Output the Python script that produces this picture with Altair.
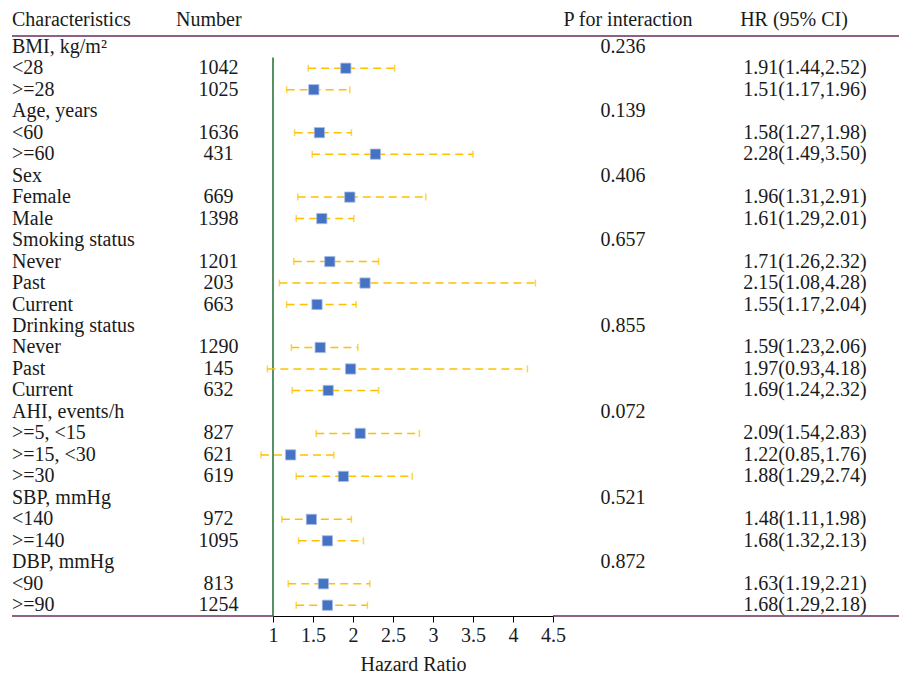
import altair as alt
import pandas as pd

# ---- data ----
group_names = ["BMI, kg/m²", "Age, years", "Sex", "Smoking status", "Drinking status",
               "AHI, events/h", "SBP, mmHg", "DBP, mmHg"]
group_p = ["0.236", "0.139", "0.406", "0.657", "0.855", "0.072", "0.521", "0.872"]
sub_labels = [["<28", ">=28"], ["<60", ">=60"], ["Female", "Male"],
              ["Never", "Past", "Current"], ["Never", "Past", "Current"],
              [">=5, <15", ">=15, <30", ">=30"], ["<140", ">=140"], ["<90", ">=90"]]
sub_n = [[1042, 1025], [1636, 431], [669, 1398], [1201, 203, 663], [1290, 145, 632],
         [827, 621, 619], [972, 1095], [813, 1254]]
sub_hr = [[1.91, 1.51], [1.58, 2.28], [1.96, 1.61], [1.71, 2.15, 1.55], [1.59, 1.97, 1.69],
          [2.09, 1.22, 1.88], [1.48, 1.68], [1.63, 1.68]]
sub_lo = [[1.44, 1.17], [1.27, 1.49], [1.31, 1.29], [1.26, 1.08, 1.17], [1.23, 0.93, 1.24],
          [1.54, 0.85, 1.29], [1.11, 1.32], [1.19, 1.29]]
sub_hi = [[2.52, 1.96], [1.98, 3.50], [2.91, 2.01], [2.32, 4.28, 2.04], [2.06, 4.18, 2.32],
          [2.83, 1.76, 2.74], [1.98, 2.13], [2.21, 2.18]]
tick_values = [1.0, 1.5, 2.0, 2.5, 3.0, 3.5, 4.0, 4.5]

rows = []
r = 0
for g, name in enumerate(group_names):
    rows.append(dict(row=r, label=name, n="", p=group_p[g], hrtxt="",
                     hr=None, lo=None, hi=None))
    r += 1
    for k, lab in enumerate(sub_labels[g]):
        hr, lo, hi = sub_hr[g][k], sub_lo[g][k], sub_hi[g][k]
        rows.append(dict(row=r, label=lab, n=str(sub_n[g][k]), p="",
                         hrtxt=f"{hr:.2f}({lo:.2f},{hi:.2f})", hr=hr, lo=lo, hi=hi))
        r += 1
df = pd.DataFrame(rows)
est = df.dropna(subset=["hr"])
nrows = len(df)

FONT = "Liberation Serif"
FS = 20
W, H = 280, 580

xsc = alt.Scale(domain=[1, 4.5], nice=False, zero=False)
ysc = alt.Scale(domain=[-0.5, nrows - 0.5], reverse=True, nice=False, zero=False)
Y = alt.Y("row:Q", scale=ysc, axis=None)
XAXIS = alt.Axis(values=tick_values, format="~g", title="Hazard Ratio", tickCount=8,
                 labelFont=FONT, labelFontSize=FS, labelColor="#1a1a1a",
                 labelOverlap=False, labelFlush=False,
                 titleFont=FONT, titleFontSize=FS, titleFontWeight="normal",
                 titleColor="#1a1a1a", domainColor="#000000", tickColor="#000000",
                 tickSize=6, labelPadding=3, titlePadding=9, grid=False)


def X(field):
    return alt.X(f"{field}:Q", scale=xsc, axis=XAXIS)


base = alt.Chart(df)


def txt(field, xpos, align):
    return base.mark_text(font=FONT, fontSize=FS, align=align, baseline="middle",
                          color="#1a1a1a").encode(
        x=alt.value(xpos), y=Y, text=f"{field}:N")


def header(s, xpos, align):
    return alt.Chart(pd.DataFrame({"t": [s]})).mark_text(
        font=FONT, fontSize=FS, align=align, baseline="middle", color="#1a1a1a"
    ).encode(x=alt.value(xpos), y=alt.value(-16), text="t:N")


hline_top = alt.Chart(pd.DataFrame({"a": [0]})).mark_rule(color="#6b2c5f", strokeWidth=1.5).encode(
    x=alt.value(-261), x2=alt.value(626), y=alt.value(0))
hline_bl = alt.Chart(pd.DataFrame({"a": [0]})).mark_rule(color="#6b2c5f", strokeWidth=1.5).encode(
    x=alt.value(-261), x2=alt.value(0), y=alt.value(H))
hline_br = alt.Chart(pd.DataFrame({"a": [0]})).mark_rule(color="#6b2c5f", strokeWidth=1.5).encode(
    x=alt.value(W), x2=alt.value(626), y=alt.value(H))

ref = alt.Chart(pd.DataFrame({"x": [1], "y1": [0.5], "y2": [nrows - 0.5]})).mark_rule(
    color="#1f6e34", strokeWidth=1.5).encode(
    x=X("x"), y=alt.Y("y1:Q", scale=ysc, axis=None), y2="y2:Q")

ci = alt.Chart(est).mark_rule(color="#ffc000", strokeWidth=1.5, strokeDash=[8, 5]).encode(
    x=X("lo"), x2="hi:Q", y=Y)
cap_lo = alt.Chart(est).mark_tick(color="#ffc000", orient="vertical", size=7, thickness=1.5).encode(
    x=X("lo"), y=Y)
cap_hi = alt.Chart(est).mark_tick(color="#ffc000", orient="vertical", size=7, thickness=1.5).encode(
    x=X("hi"), y=Y)
sq = alt.Chart(est).mark_square(color="#4472c4", size=105, opacity=1, filled=True,
                                stroke="#a9bde3", strokeWidth=0.8).encode(
    x=X("hr"), y=Y)

chart = alt.layer(
    hline_top, hline_bl, hline_br,
    header("Characteristics", -261, "left"),
    header("Number", -97, "left"),
    header("P for interaction", 355, "center"),
    header("HR (95% CI)", 521, "center"),
    txt("label", -261, "left"),
    txt("n", -54.5, "center"),
    txt("p", 350, "center"),
    txt("hrtxt", 532, "center"),
    ref, ci, cap_lo, cap_hi, sq,
).properties(
    width=W, height=H,
    padding={"left": 273, "top": 36, "right": 346, "bottom": 60},
    autosize=alt.AutoSizeParams(type="none"),
    background="white",
).configure_view(stroke=None)

chart.save("out.html", embed_options={"renderer": "svg", "actions": False})
